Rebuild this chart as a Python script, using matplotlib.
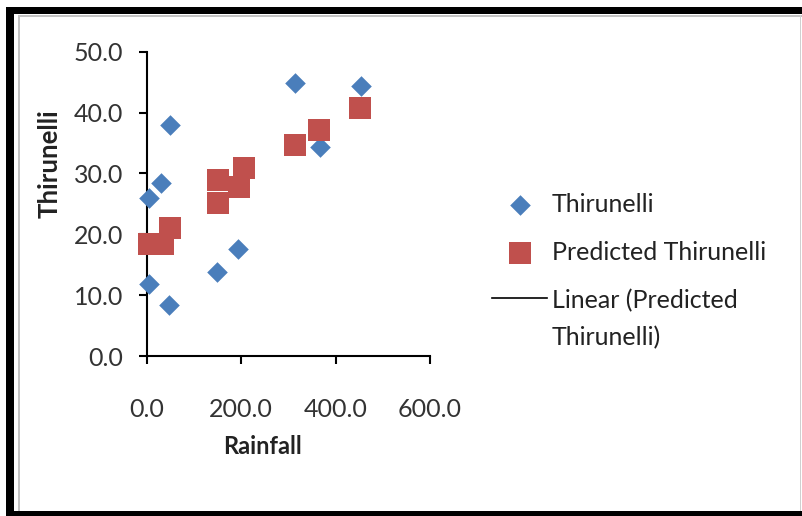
import matplotlib
matplotlib.use("Agg")
import matplotlib.pyplot as plt
from matplotlib.lines import Line2D
from matplotlib.patches import Rectangle
from matplotlib.legend_handler import HandlerLine2D

# Observed rainfall vs Thirunelli values
rain_obs = [4.9, 4.9, 30.3, 47.0, 49.4, 148.0, 194.0, 314.0, 367.0, 454.0]
thir_obs = [25.9, 11.8, 28.5, 8.3, 38.0, 13.8, 17.5, 44.8, 34.4, 44.3]

# Predicted values from the regression
rain_pred = [5.0, 35.0, 49.0, 151.0, 151.0, 195.0, 206.0, 314.0, 365.0, 452.0]
thir_pred = [18.4, 18.4, 21.1, 28.9, 25.2, 27.8, 30.9, 34.7, 37.1, 40.7]

x_ticks = [0, 200, 400, 600]
y_ticks = [0, 10, 20, 30, 40, 50]

plt.rcParams["font.family"] = ["Lato", "DejaVu Sans"]

W, H = 803, 516
fig = plt.figure(figsize=(W / 100, H / 100), dpi=100)


def px(x0, y0, w, h, **kw):
    # rectangle given in pixel coords from the top-left corner
    fig.add_artist(Rectangle((x0 / W, 1 - (y0 + h) / H), w / W, h / H,
                             transform=fig.transFigure, lw=0, **kw))


# outer frame like the screenshot
px(6, 7, W - 6, 7, color="black")
px(6, 7, 8, H - 7, color="black")
px(6, 511, W - 6, 5, color="black")
px(18, 15, 2.5, 496, color="#c4c4c4")
px(18, 15, W - 18, 2, color="#c4c4c4")
px(800, 15, 1.5, 496, color="#d0d0d0")

ax = fig.add_axes([146.7 / W, 1 - 356 / H, 283.3 / W, 304.3 / H])
ax.scatter(rain_obs, thir_obs, marker="D", s=110, color="#4a7ebb", lw=0,
           zorder=3, clip_on=False, label="Thirunelli")
ax.scatter(rain_pred, thir_pred, marker="s", s=240, color="#c0504d", lw=0,
           zorder=4, clip_on=False, label="Predicted Thirunelli")

ax.set_xlim(0, 600)
ax.set_ylim(0, 50)
ax.set_xticks(x_ticks)
ax.set_yticks(y_ticks)
ax.set_xticklabels([f"{v:.1f}" for v in x_ticks])
ax.set_yticklabels([f"{v:.1f}" for v in y_ticks])
for s in ["top", "right"]:
    ax.spines[s].set_visible(False)
for s in ["left", "bottom"]:
    ax.spines[s].set_linewidth(1.5)
ax.tick_params(axis="both", direction="out", length=6, width=1.5,
               labelsize=18, labelcolor="#333333")
ax.tick_params(axis="x", pad=24)
ax.tick_params(axis="y", pad=11)

fig.text(263 / W, 1 - 447 / H, "Rainfall", ha="center", va="center",
         fontsize=17, fontweight="bold", color="#222222")
fig.text(50 / W, 1 - 164 / H, "Thirunelli", ha="center", va="center",
         rotation=90, fontsize=18.5, fontweight="bold", color="#222222")


class FirstLineHandler(HandlerLine2D):
    # put the trendline swatch next to the first line of a two-line label
    def create_artists(self, legend, orig_handle, xdescent, ydescent,
                       width, height, fontsize, trans):
        arts = super().create_artists(legend, orig_handle, xdescent, ydescent,
                                      width, height, fontsize, trans)
        for a in arts:
            a.set_ydata([y + 16 for y in a.get_ydata()])
        return arts


trend = Line2D([], [], color="black", lw=1.2)
handles, labels = ax.get_legend_handles_labels()
leg = ax.legend(handles + [trend], labels + ["Linear (Predicted\nThirunelli)"],
                loc="upper left", bbox_to_anchor=(492 / W, 1 - 193 / H),
                bbox_transform=fig.transFigure, frameon=False, fontsize=18,
                handlelength=2.2, handletextpad=0.2, labelspacing=1.0,
                borderaxespad=0, borderpad=0, scatterpoints=1,
                handler_map={trend: FirstLineHandler()})
for t in leg.get_texts():
    t.set_color("#222222")
    t.set_linespacing(1.72)

fig.savefig("out.png", dpi=100, facecolor="white")
